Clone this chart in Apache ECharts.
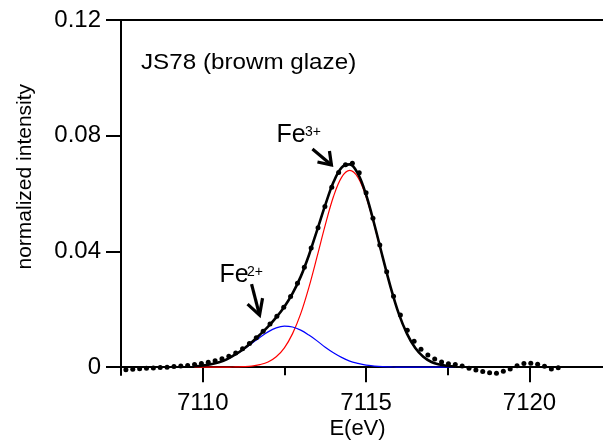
<!DOCTYPE html>
<html>
<head>
<meta charset="utf-8">
<script src="https://cdn.jsdelivr.net/npm/echarts@6/dist/echarts.min.js"></script>
<style>
  html, body { margin: 0; padding: 0; background: #fff; }
  #chart { width: 603px; height: 446px; }
</style>
</head>
<body>
<div id="chart"></div>
<script>
// Energies (eV) at which the fitted components are tabulated
const fitE = [7109.75, 7110.00, 7110.25, 7110.50, 7110.75, 7111.00, 7111.25, 7111.50, 7111.75,
  7112.00, 7112.25, 7112.50, 7112.75, 7113.00, 7113.25, 7113.50, 7113.75, 7114.00, 7114.25,
  7114.50, 7114.75, 7115.00, 7115.25, 7115.50, 7115.75, 7116.00, 7116.25, 7116.50, 7116.75,
  7117.00, 7117.25, 7117.50, 7117.75];

// Fe3+ component (red)
const fe3Fit = [0, 0, 0, 0, 0, 0.0001, 0.0002, 0.0004, 0.0009,
  0.0018, 0.0036, 0.0067, 0.0116, 0.0185, 0.0276, 0.0382, 0.0491, 0.0589, 0.0656,
  0.0680, 0.0656, 0.0589, 0.0491, 0.0382, 0.0276, 0.0185, 0.0116, 0.0067, 0.0036,
  0.0018, 0.0009, 0.0004, 0.0002];

// Fe2+ component (blue)
const fe2Fit = [0.0003, 0.0006, 0.0010, 0.0017, 0.0028, 0.0043, 0.0061, 0.0082, 0.0103,
  0.0122, 0.0136, 0.0142, 0.0139, 0.0128, 0.0111, 0.0091, 0.0069, 0.0050, 0.0034,
  0.0021, 0.0013, 0.0007, 0.0004, 0.0002, 0.0001, 0, 0, 0, 0,
  0, 0, 0, 0];

// Sum of both components (black)
const totalFit = [0.0003, 0.0006, 0.0010, 0.0017, 0.0028, 0.0044, 0.0063, 0.0086, 0.0112,
  0.0140, 0.0172, 0.0209, 0.0255, 0.0313, 0.0387, 0.0473, 0.0560, 0.0639, 0.0690,
  0.0701, 0.0669, 0.0596, 0.0495, 0.0384, 0.0277, 0.0185, 0.0116, 0.0067, 0.0036,
  0.0018, 0.0009, 0.0004, 0.0002];

// Measured pre-edge spectrum
const dataE = [7107.65, 7107.86, 7108.07, 7108.28, 7108.49, 7108.70, 7108.91, 7109.12,
  7109.33, 7109.54, 7109.75, 7109.96, 7110.17, 7110.38, 7110.59, 7110.80, 7111.01, 7111.22,
  7111.43, 7111.64, 7111.85, 7112.06, 7112.27, 7112.48, 7112.69, 7112.90, 7113.11, 7113.32,
  7113.53, 7113.74, 7113.95, 7114.16, 7114.37, 7114.58, 7114.79, 7115.00, 7115.21, 7115.42,
  7115.63, 7115.84, 7116.05, 7116.26, 7116.47, 7116.68, 7116.89, 7117.10, 7117.31, 7117.52,
  7117.73, 7117.94, 7118.15, 7118.36, 7118.57, 7118.78, 7118.99, 7119.20, 7119.41, 7119.62,
  7119.83, 7120.04, 7120.25, 7120.46, 7120.67, 7120.88];
const dataI = [-0.0009, -0.0007, -0.0005, -0.0004, -0.0003, -0.0001, 0.0000, 0.0002,
  0.0004, 0.0006, 0.0009, 0.0013, 0.0017, 0.0022, 0.0029, 0.0038, 0.0049, 0.0064,
  0.0082, 0.0102, 0.0124, 0.0149, 0.0176, 0.0207, 0.0244, 0.0290, 0.0345, 0.0412,
  0.0482, 0.0555, 0.0622, 0.0673, 0.0700, 0.0705, 0.0672, 0.0603, 0.0515, 0.0422,
  0.0330, 0.0245, 0.0180, 0.0128, 0.0090, 0.0062, 0.0042, 0.0028, 0.0018, 0.0012,
  0.0009, 0.0004, -0.0004, -0.0010, -0.0015, -0.0019, -0.0021, -0.0014, -0.0006, 0.0005,
  0.0013, 0.0014, 0.0010, 0.0003, -0.0006, -0.0002];

// Axis ticks
const xMajorTicks = [7110, 7115, 7120];
const xMinorTicks = [7112.5, 7117.5];
const yTicks = [0, 0.04, 0.08, 0.12];

const FONT = '"Liberation Sans", Arial, Helvetica, sans-serif';
const AXIS_LINE = { color: '#000', width: 2 };
const X_MIN = 7107.5, X_MAX = 7122.25;

const pairs = (xs, ys) => xs.map((x, i) => [x, ys[i]]);

const chart = echarts.init(document.getElementById('chart'), null, { renderer: 'canvas' });

chart.setOption({
  animation: false,
  backgroundColor: '#fff',
  grid: { left: 121, right: 0, top: 20, bottom: 71, outerBoundsMode: 'none' },
  xAxis: [
    {
      type: 'value', min: X_MIN, max: X_MAX, position: 'bottom',
      axisLine: { show: true, onZero: true, onZeroAxisIndex: 0, lineStyle: AXIS_LINE },
      axisTick: { show: true, customValues: xMajorTicks, length: 15, lineStyle: AXIS_LINE },
      axisLabel: {
        customValues: xMajorTicks, margin: 16, color: '#000', fontSize: 24, fontFamily: FONT,
        formatter: v => String(v)
      },
      splitLine: { show: false }
    },
    {
      type: 'value', min: X_MIN, max: X_MAX, position: 'bottom',
      axisLine: { show: false, onZero: true, onZeroAxisIndex: 0 },
      axisTick: { show: true, customValues: xMinorTicks, length: 8, lineStyle: AXIS_LINE },
      axisLabel: { show: false },
      splitLine: { show: false }
    },
    {
      type: 'value', min: X_MIN, max: X_MAX, position: 'top',
      axisLine: { show: true, onZero: false, lineStyle: AXIS_LINE },
      axisTick: { show: false },
      axisLabel: { show: false },
      splitLine: { show: false }
    }
  ],
  yAxis: {
    type: 'value', min: -0.0027, max: 0.12,
    axisLine: { show: true, onZero: false, lineStyle: AXIS_LINE },
    axisTick: { show: true, customValues: yTicks, length: 15, lineStyle: AXIS_LINE },
    axisLabel: {
      customValues: yTicks, margin: 20, color: '#000', fontSize: 24, fontFamily: FONT,
      formatter: v => (v === 0 ? '0' : v.toFixed(2))
    },
    splitLine: { show: false }
  },
  series: [
    {
      name: 'Fe3+', type: 'line', data: pairs(fitE, fe3Fit), smooth: 0.35,
      showSymbol: false, lineStyle: { color: '#ff0000', width: 1.2 }, z: 3
    },
    {
      name: 'Fe2+', type: 'line', data: pairs(fitE, fe2Fit), smooth: 0.35,
      showSymbol: false, lineStyle: { color: '#0000ff', width: 1.2 }, z: 4
    },
    {
      name: 'fit', type: 'line', data: pairs(fitE, totalFit), smooth: 0.35,
      showSymbol: false, lineStyle: { color: '#000', width: 2.6 }, z: 5
    },
    {
      name: 'data', type: 'scatter', data: pairs(dataE, dataI),
      symbol: 'circle', symbolSize: 5, itemStyle: { color: '#000', opacity: 1 }, z: 6
    }
  ]
});

// Annotations: arrows anchored at points on the spectrum, plus text labels
function arrow(tipData, shaft, armA, armB) {
  const t = chart.convertToPixel({ gridIndex: 0 }, tipData);
  const style = { stroke: '#000', lineWidth: 3.2, fill: null, lineJoin: 'miter', lineCap: 'butt' };
  return [
    { type: 'polyline', shape: { points: [[t[0] + shaft[0], t[1] + shaft[1]], t] }, style: style, z: 10 },
    { type: 'polyline', shape: { points: [[t[0] + armA[0], t[1] + armA[1]], t, [t[0] + armB[0], t[1] + armB[1]]] }, style: style, z: 10 }
  ];
}
function label(x, y, text, size, extra) {
  return Object.assign({
    type: 'text', x: x, y: y, z: 10,
    style: { text: text, fill: '#000', fontSize: size, fontFamily: FONT, align: 'left', verticalAlign: 'middle' }
  }, extra || {});
}

const graphics = []
  .concat(arrow([7113.94, 0.0699], [-19, -16], [-2, -14], [-14, -3]))
  .concat(arrow([7111.74, 0.0180], [-8, -31], [-12, -11], [3, -17]))
  .concat([
    label(141, 63, 'JS78 (browm glaze)', 22, { scaleX: 1.1 }),
    label(276.5, 135.2, 'Fe', 25),
    label(305, 132.5, '3+', 14),
    label(219.5, 275.2, 'Fe', 25),
    label(247, 272.5, '2+', 14),
    {
      type: 'text', x: 25, y: 176.7, rotation: Math.PI / 2, z: 10,
      style: { text: 'normalized intensity', fill: '#000', fontSize: 21, fontFamily: FONT, align: 'center', verticalAlign: 'middle' }
    },
    {
      type: 'text', x: 357.5, y: 429, z: 10,
      style: { text: 'E(eV)', fill: '#000', fontSize: 22, fontFamily: FONT, align: 'center', verticalAlign: 'middle' }
    }
  ]);

chart.setOption({ graphic: graphics });
</script>
</body>
</html>
